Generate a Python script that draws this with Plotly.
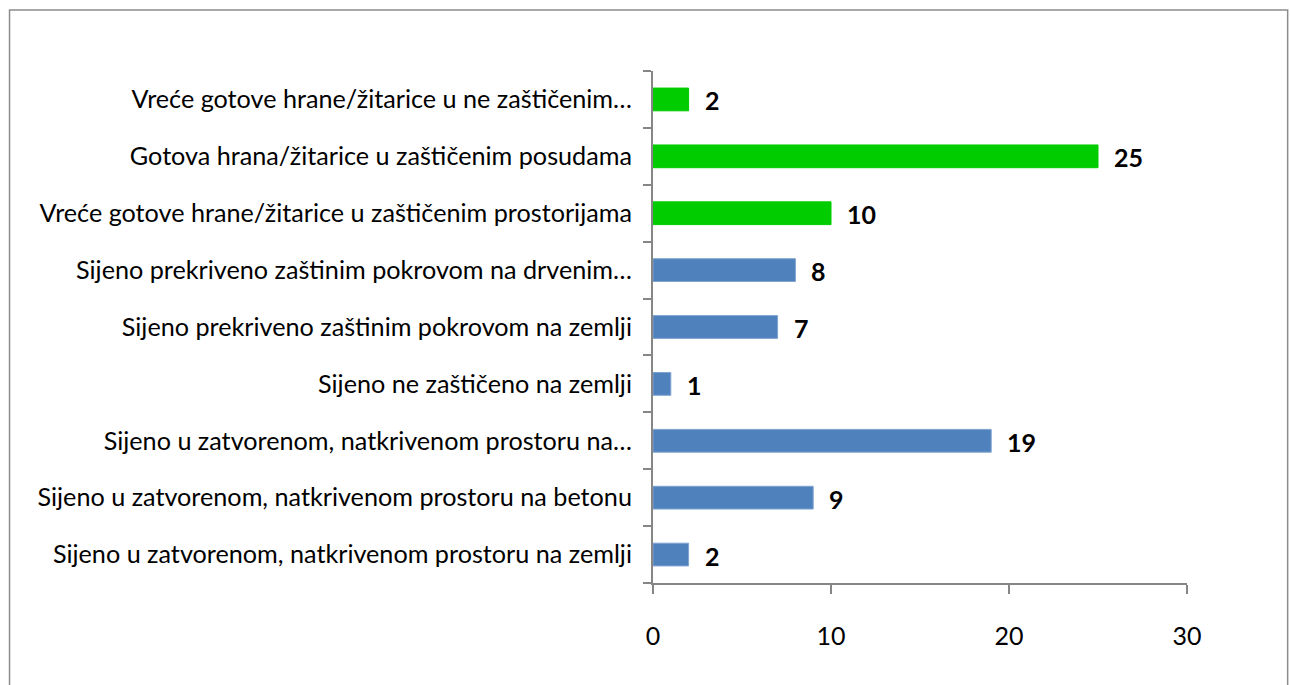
import plotly.graph_objects as go

# Categories listed bottom to top
categories = [
    "Sijeno u zatvorenom, natkrivenom prostoru na zemlji",
    "Sijeno u zatvorenom, natkrivenom prostoru na betonu",
    "Sijeno u zatvorenom, natkrivenom prostoru na…",
    "Sijeno ne zaštičeno na zemlji",
    "Sijeno prekriveno zaštinim pokrovom na zemlji",
    "Sijeno prekriveno zaštinim pokrovom na drvenim…",
    "Vreće gotove hrane/žitarice u zaštičenim prostorijama",
    "Gotova hrana/žitarice u zaštičenim posudama",
    "Vreće gotove hrane/žitarice u ne zaštičenim…",
]
values = [2, 9, 19, 1, 7, 8, 10, 25, 2]
groups = ["hay", "hay", "hay", "hay", "hay", "hay", "feed", "feed", "feed"]

x_ticks = [0, 10, 20, 30]

group_colors = {"hay": "#4F81BD", "feed": "#00CC00"}
group_lines = {"hay": "#7FA3D0", "feed": "#00CC00"}
FONT = "Lato"
AXIS_GRAY = "#868686"

fig = go.Figure()
fig.add_trace(go.Bar(
    y=categories,
    x=values,
    orientation="h",
    marker=dict(
        color=[group_colors[g] for g in groups],
        line=dict(color=[group_lines[g] for g in groups], width=1),
    ),
    width=0.4,
    hoverinfo="x+y",
))

# Bold value labels just past the bar ends
for cat, val in zip(categories, values):
    fig.add_annotation(
        x=val, y=cat, text=f"<b>{val}</b>", showarrow=False,
        xanchor="left", xshift=14, yshift=-1,
        font=dict(family=FONT, size=25, color="#000000"),
    )

# Outer frame around the chart area
fig.add_shape(
    type="rect", xref="paper", yref="paper",
    x0=-1.205, x1=1.1885, y0=-0.205, y1=1.119,
    line=dict(color="#8C8C8C", width=1.5), fillcolor="rgba(0,0,0,0)",
    layer="below",
)

fig.update_layout(
    width=1290, height=685,
    margin=dict(l=653, r=103, t=71, b=102, pad=0),
    paper_bgcolor="white", plot_bgcolor="white",
    showlegend=False,
    font=dict(family=FONT, size=25, color="#000000"),
    bargap=0.6,
)
fig.update_xaxes(
    range=[0, 30], tickvals=x_ticks, ticktext=[str(t) for t in x_ticks],
    showgrid=False, zeroline=False,
    showline=True, linecolor=AXIS_GRAY, linewidth=2,
    ticks="outside", ticklen=9, tickwidth=2, tickcolor=AXIS_GRAY,
    ticklabelstandoff=21,
    tickfont=dict(family=FONT, size=25),
)
fig.update_yaxes(
    categoryorder="array", categoryarray=categories,
    showgrid=False, zeroline=False,
    showline=True, linecolor=AXIS_GRAY, linewidth=2,
    ticks="outside", ticklen=8, tickwidth=2, tickcolor=AXIS_GRAY,
    tickson="boundaries",
    ticklabelstandoff=14,
    tickfont=dict(family=FONT, size=25.2),
)

fig.write_html("out.html")
